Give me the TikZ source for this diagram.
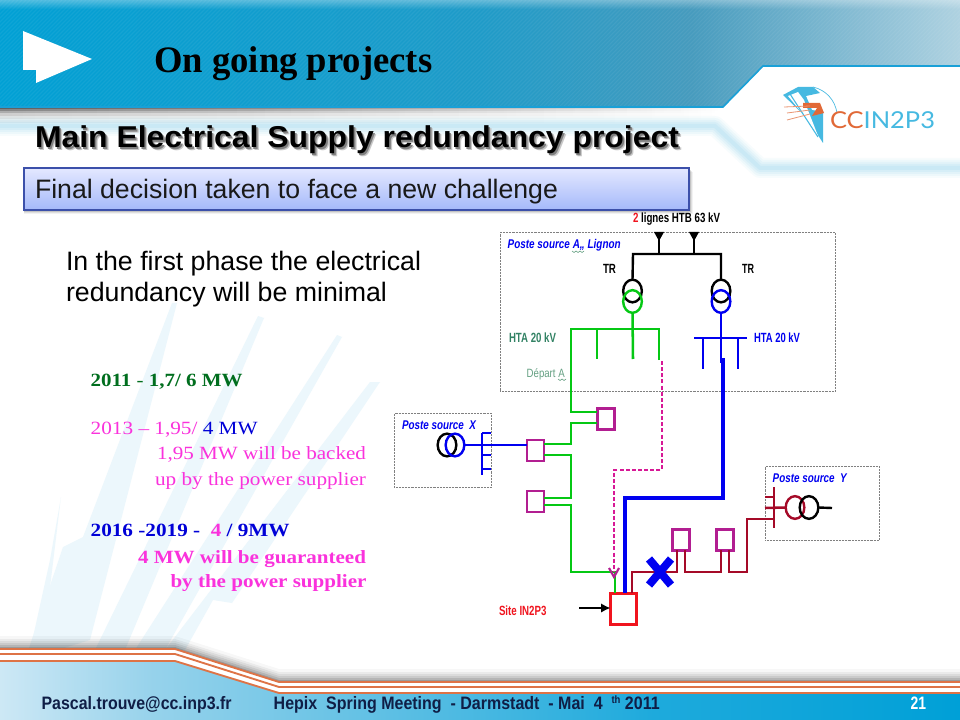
\documentclass[tikz,border=0pt]{standalone}
\usepackage{fontspec}
\usepackage{graphicx}
\setmainfont{Liberation Sans}
\newfontfamily\timesf{Liberation Serif}
\newfontfamily\logof{Lato}
\usetikzlibrary{arrows.meta,calc,fadings,shapes.geometric}
\definecolor{cGreen}{RGB}{5,200,20}
\definecolor{cBlue}{RGB}{0,0,240}
\definecolor{cDark}{RGB}{165,10,40}
\definecolor{cBox}{RGB}{178,30,145}
\definecolor{cPink}{RGB}{215,25,150}
\definecolor{cRed}{RGB}{240,20,30}
\definecolor{tGreen}{RGB}{0,110,30}
\definecolor{tMag}{RGB}{250,50,220}
\definecolor{tBlue}{RGB}{0,0,215}
\definecolor{lGreen}{RGB}{50,130,100}
\definecolor{lGreenB}{RGB}{100,160,130}
\definecolor{raycol}{RGB}{236,247,252}
\definecolor{glow}{RGB}{130,205,235}
\definecolor{orangeL}{RGB}{222,115,70}
\definecolor{navy}{RGB}{15,30,70}
\definecolor{logoB}{RGB}{70,185,225}
\definecolor{logoO}{RGB}{225,105,55}
\pgfdeclarehorizontalshading{bannershade}{100bp}{
 rgb(0bp)=(0,.627,.831);
 rgb(25bp)=(0,.627,.831);
 rgb(50bp)=(.118,.608,.784);
 rgb(61bp)=(.275,.608,.745);
 rgb(75bp)=(.686,.824,.882);
 rgb(100bp)=(.686,.824,.882)}
\pgfdeclarehorizontalshading{footshade}{100bp}{
 rgb(0bp)=(.804,.91,.961);
 rgb(25bp)=(.804,.91,.961);
 rgb(33bp)=(.588,.824,.922);
 rgb(59bp)=(.118,.667,.863);
 rgb(75bp)=(0,.627,.843);
 rgb(100bp)=(0,.627,.843)}
\newsavebox\fwbox
% #1 width in reference pixels, #2 font size, #3 text
\newcommand{\fw}[3]{\sbox\fwbox{\fontsize{#2}{#2}\selectfont #3}\pgfmathsetmacro\fwr{#1*0.75/\wd\fwbox}\scalebox{\fwr}[1]{\usebox\fwbox}}
\newcommand{\headtxt}{Main Electrical Supply redundancy project}
\tikzset{
 lab/.style={inner sep=0pt,outer sep=0pt,anchor=base west},
 labr/.style={inner sep=0pt,outer sep=0pt,anchor=base east},
 sq/.style={draw=cBox,line width=1.8pt,fill=white,minimum width=13pt,minimum height=15.5pt,inner sep=0pt,outer sep=0pt},
 sitebox/.style={draw=cRed,line width=1.9pt,fill=white,minimum width=19.5pt,minimum height=23pt,inner sep=0pt,outer sep=0pt},
 sbox/.style={draw=black!50,dash pattern=on .7pt off .4pt,line width=.6pt},
 trf/.style={ellipse,fill=none,line width=1.8pt,minimum width=14pt,minimum height=17pt,inner sep=0pt,outer sep=0pt},
 gl/.style={draw=cGreen,line width=1.9pt},
 bl/.style={draw=cBlue,line width=1.9pt},
 blth/.style={draw=cBlue,line width=2.6pt},
 rl/.style={draw=cDark,line width=1.9pt},
 kl/.style={draw=black,line width=1.8pt},
 pd/.style={draw=cPink,line width=1.6pt,dash pattern=on 3pt off 1.6pt},
 ol/.style={draw=orangeL,line width=1.4pt},
 squig/.style={draw=lGreenB,line width=.45pt},
}
\begin{document}
\begin{tikzpicture}[x=0.75pt,y=-0.75pt]
\useasboundingbox (0,0) rectangle (960,720);
\fill[white] (0,0) rectangle (960,720);
% rays
\fill[raycol] (172,303)--(177,303)--(90,640)--(25,660)--(63,547)--(83,537)--cycle;
\fill[raycol] (61,497)--(46,620)--(28,660)--(50,560)--cycle;
\fill[raycol] (258,316)--(264,318)--(125,650)--(95,650)--cycle;
\fill[raycol] (337,335)--(342,337)--(165,650)--(135,650)--cycle;
\fill[raycol] (370,382)--(380,382)--(232,603)--(213,600)--(185,650)--(165,650)--cycle;
% glow stripe
\foreach \w/\o in {20/.06,16/.08,12/.1,8/.12,4/.14}{
 \draw[glow,line width=\w*0.75pt,opacity=\o,line join=round] (0,126)--(715,126)--(760,168)--(960,168);
}
% banner shadow
\foreach \s/\o in {2/.28,4/.22,6/.16,9/.1,12/.06,16/.04}{
 \fill[black,opacity=\o,path fading=east] (0,100) rectangle (723,107+\s);
}
% banner
\begin{scope}
\clip (0,0)--(960,0)--(960,66)--(763,66)--(723,107)--(0,107)--cycle;
\shade[shading=bannershade] (0,0) rectangle (960,110);
\fill[white,opacity=.3,path fading=south] (0,0) rectangle (960,9);
\foreach \i in {-120,-116,...,960}{\draw[white,opacity=.06,line width=.8pt] (\i,110)--(\i+110,0);}
\end{scope}
\draw[color={rgb,255:red,25;green,160;blue,215},line width=1.2pt] (0,107)--(723,107)--(763,66)--(960,66);
% white arrow
\fill[white] (23,31)--(92,59)--(36,83)--(36,70)--(23,70)--cycle;
\node[lab,font=\timesf\bfseries] (title) at (154.3,73) {\fw{278}{28}{On going projects}};
% logo
\begin{scope}
\fill[logoB] (783,95)--(798,87)--(813,87)--(820,93)--(806,96)--(812,110)--(823,112)--(823,143)--(807,118)--cycle;
\fill[white] (788,96)--(798,92)--(804,100)--(820,141)--(806,118)--cycle;
\draw[logoB,line width=.8pt] (790,94)--(818,137);
\draw[logoB,line width=.5pt] (813,87) .. controls (826,90) and (835,100) .. (837,113);
\fill[logoO] (803,103)--(820,103)--(824,113)--(812,116)--(817,108)--(803,108)--cycle;
\draw[logoO!70,line width=.6pt] (784,107)--(810,106) (787,113)--(810,110) (787,120)--(810,114);
\end{scope}
\node[lab,font=\logof\mdseries] (logotext) at (830,129) {\fw{105}{17.5}{\textcolor{logoO}{CC}\textcolor{logoB}{IN2P3}}};
% heading, its soft shadow set inside the same node
\node[lab,font=\bfseries] (heading) at (35,148) {\fw{644}{22.6}{\rlap{\hspace{2pt}\raisebox{-2pt}{\textcolor{black!22}{\headtxt}}}\rlap{\hspace{1.1pt}\raisebox{-1.1pt}{\textcolor{black!50}{\headtxt}}}\headtxt}};
% decision box
\foreach \s/\o in {1/.16,2/.12,3/.08,4/.05}{\fill[black,opacity=\o] (24,168+\s) rectangle (689+\s,210+\s);}
\shade[top color={rgb,255:red,228;green,232;blue,255},bottom color={rgb,255:red,165;green,185;blue,250},draw={rgb,255:red,60;green,80;blue,170},line width=.8pt] (24,168) rectangle (689,210);
\node[lab,text=black!90] (decision) at (35,199) {\fw{523}{20}{Final decision taken to face a new challenge}};
% body text
\node[lab] (body1) at (66,271) {\fw{355}{20}{In the first phase the electrical}};
\node[lab] (body2) at (66,301) {\fw{321}{20}{redundancy will be minimal}};
% year text
\node[lab,font=\timesf] (y2011) at (90.7,386) {\fw{152}{14}{\textcolor{tGreen}{\textbf{2011} - \textbf{1,7/ 6 MW}}}};
\node[lab,font=\timesf] (y2013) at (90.7,434) {\fw{167}{14}{\textcolor{tMag}{2013 – 1,95/} \textcolor{tBlue}{4 MW}}};
\node[labr,font=\timesf,text=tMag] (l95a) at (366,459) {\fw{209}{14}{1,95 MW will be backed}};
\node[labr,font=\timesf,text=tMag] (l95b) at (366,485) {\fw{211}{14}{up by the power supplier}};
\node[lab,font=\timesf\bfseries] (y2016) at (90.7,536) {\fw{199}{14}{\textcolor{tBlue}{2016 -2019 -\ \ }\textcolor{tMag}{4}\textcolor{tBlue}{\ / 9MW}}};
\node[labr,font=\timesf\bfseries,text=tMag] (g1) at (366,563) {\fw{228}{14}{4 MW will be guaranteed}};
\node[labr,font=\timesf\bfseries,text=tMag] (g2) at (366.5,587) {\fw{196}{14}{by the power supplier}};
% station boxes
\node[sbox,minimum width=251.25pt,minimum height=119.25pt,inner sep=0pt,anchor=north west] (stA) at (500,232) {};
\node[sbox,minimum width=72.75pt,minimum height=55.5pt,inner sep=0pt,anchor=north west] (stX) at (394,413) {};
\node[sbox,minimum width=85.5pt,minimum height=55.5pt,inner sep=0pt,anchor=north west] (stY) at (765,466) {};
% labels in diagram
\node[lab,font=\bfseries] (lignes) at (633,223) {\fw{87}{10}{\textcolor{cRed}{2} lignes HTB 63 kV}};
\node[lab,font=\bfseries\itshape,text=cBlue] (lblA) at (507.7,249) {\fw{113}{9.5}{Poste source A,, Lignon}};
\draw[squig] (572,251)--(574,252.5)--(576,251)--(578,252.5)--(580,251)--(582,252.5)--(584,251);
\node[lab,font=\bfseries] (tr1) at (603,274) {\fw{13}{10}{TR}};
\node[lab,font=\bfseries] (tr2) at (742,274) {\fw{12}{10}{TR}};
\node[lab,font=\bfseries,text=lGreen] (htaG) at (509,342) {\fw{47}{10}{HTA 20 kV}};
\node[lab,font=\bfseries,text=cBlue] (htaB) at (754,342) {\fw{46}{10}{HTA 20 kV}};
\node[lab,text=lGreenB] (depart) at (526.7,377) {\fw{38}{9}{Départ A}};
\draw[squig] (558,379)--(560,380.5)--(562,379)--(564,380.5)--(566,379);
\node[lab,font=\bfseries\itshape,text=cBlue] (lblX) at (402,429) {\fw{74}{9.5}{Poste source\ \ X}};
\node[lab,font=\bfseries\itshape,text=cBlue] (lblY) at (772.7,482) {\fw{74}{9.5}{Poste source\ \ Y}};
\node[lab,font=\bfseries,text=cRed] (site) at (499,615.7) {\fw{47.5}{10}{Site IN2P3}};
% coordinates
\coordinate (fa) at (659,232);
\coordinate (fb) at (694,232);
\coordinate (hbL) at (633,254);
\coordinate (hbR) at (721,254);
\coordinate (gL) at (571,329);
\coordinate (gR) at (659,329);
\coordinate (gs1) at (597,359);
\coordinate (gs2) at (633,359);
\coordinate (gs3) at (659,360);
\coordinate (bL) at (694,338);
\coordinate (bR) at (747,338);
\coordinate (bs1) at (703,369);
\coordinate (bs2) at (738,369);
\coordinate (bs3) at (721,363);
\coordinate (bt) at (723,358);
% transformers
\node[trf,draw=black] (t1k) at (632.5,291) {};
\node[trf,draw=black] (t2k) at (721,291) {};
\node[trf,draw=cGreen] (t1c) at (632.5,301.5) {};
\node[trf,draw=cBlue] (t2c) at (721,301.5) {};
\node[trf,draw=black] (txk) at (447,445) {};
\node[trf,draw=cBlue] (txc) at (455,445) {};
\node[trf,draw=cDark] (tyc) at (795,507.5) {};
\node[trf,draw=black] (tyk) at (809,507.5) {};
% boxes
\node[sq,minimum height=15.5pt] (b1) at (606,419) {};
\node[sq,minimum height=16pt] (b2) at (535.5,450.5) {};
\node[sq,minimum height=16pt] (b3) at (535.5,501.5) {};
\node[sq,minimum height=15.5pt] (b4) at (681,540) {};
\node[sq,minimum height=15.5pt] (b5) at (725,540) {};
\node[sitebox] (sitesq) at (623.5,609) {};
% feeders
\fill (654,232)--(664,232)--(659,241)--cycle;
\fill (689,232)--(699,232)--(694,241)--cycle;
\draw[kl] (fa)--(fa|-hbL);
\draw[kl] (fb)--(fb|-hbL);
\draw[kl] (t1k.north)--(hbL)--(hbR)--(t2k.north);
% green bars
\draw[gl] (t1c.south)--(gs2);
\draw[gl] (gs1|-gR)--(gs1);
\draw[gl] (gs3)--(gR)--(gL)--(571,412)--($(b1.west)+(0,-7)$);
\draw[gl] ($(b1.west)+(0,4)$)--(571,423)--(571,444)--($(b2.east)+(0,-6.5)$);
\draw[gl] ($(b2.east)+(0,4.5)$)--(571,455)--(571,498)--($(b3.east)+(0,-3.5)$);
\draw[gl] ($(b3.east)+(0,3.5)$)--(571,505)--(571,572)--(615,572)--(615,593);
% dashed
\draw[pd] (661.7,361)--(661.7,470)--(614,470)--(614,572);
\draw[draw=cBox,line width=1.6pt] (609,568)--(614,577)--(619,568);
% blue
\draw[bl] (t2c.south)--(bs3);
\draw[bl] (bL)--(bR);
\draw[bl] (bs1|-bL)--(bs1);
\draw[bl] (bs2|-bL)--(bs2);
\draw[blth] (bt)--(723,498)--(625,498)--(625,593);
% X station
\draw[bl] (txc.east)--(b2.west|-txc.east);
\draw[bl] (482,433)--(482,475);
\draw[bl] (482,433)--(491,433);
\draw[bl] (482,455)--(491,455);
\draw[bl] (482,469)--(491,469);
% Y station
\draw[rl] (774,487)--(774,528);
\draw[rl] (765,497)--(774,497);
\draw[rl] (765,508)--(tyc.west);
\draw[kl] (tyk.east)--(832,508);
\draw[rl] (774,519)--(747,519)--(747,572)--(729,572)--($(b5.south)+(4,0)$);
\draw[rl] ($(b5.south)+(-4,0)$)--(721,572)--(685,572)--($(b4.south)+(4,0)$);
\draw[rl] ($(b4.south)+(-4,0)$)--(677,572)--(632,572)--(632,593);
% X mark
\coordinate (xm) at (660,572);
\draw[draw=cBlue,line width=6pt] ($(xm)+(-11,-13)$)--($(xm)+(11,13)$);
\draw[draw=cBlue,line width=6pt] ($(xm)+(11,-13)$)--($(xm)+(-11,13)$);
% site arrow
\coordinate (sa) at (579,608);
\draw[-{Latex[length=7pt,width=7pt]},line width=1.7pt] (sa)--(sitesq.west|-sa);
% footer
\foreach \s/\o in {2/.14,4/.1,6/.08,8/.06,10/.05,13/.03}{
 \fill[black,opacity=\o] (0,649-\s)--(175,649-\s)--(279,682-\s)--(960,682-\s)--(960,690)--(279,690)--(175,665)--(0,665)--cycle;
}
\fill[white] (0,649)--(175,649)--(279,682)--(960,682)--(960,694)--(279,694)--(175,661)--(0,661)--cycle;
\shade[shading=footshade] (0,661)--(175,661)--(279,693)--(960,693)--(960,720)--(0,720)--cycle;
\draw[ol] (0,649)--(175,649)--(279,682)--(960,682);
\draw[ol] (0,654)--(175,654)--(279,687)--(960,687);
\draw[ol] (0,661)--(175,661)--(279,693)--(960,693);
\node[lab,font=\bfseries,text=navy] (mail) at (41.6,709) {\fw{190}{13.5}{Pascal.trouve@cc.inp3.fr}};
\node[lab,font=\bfseries,text=navy] (meeting) at (273.7,709) {\fw{386}{13.5}{Hepix\ \ Spring Meeting\ \ - Darmstadt\ \ - Mai\ \ 4\ \ \raisebox{4pt}{\fontsize{8}{8}\selectfont th} 2011}};
\node[lab,font=\bfseries,text=white] (pageno) at (910.5,709) {\fw{15.5}{13.5}{21}};
\end{tikzpicture}
\end{document}
